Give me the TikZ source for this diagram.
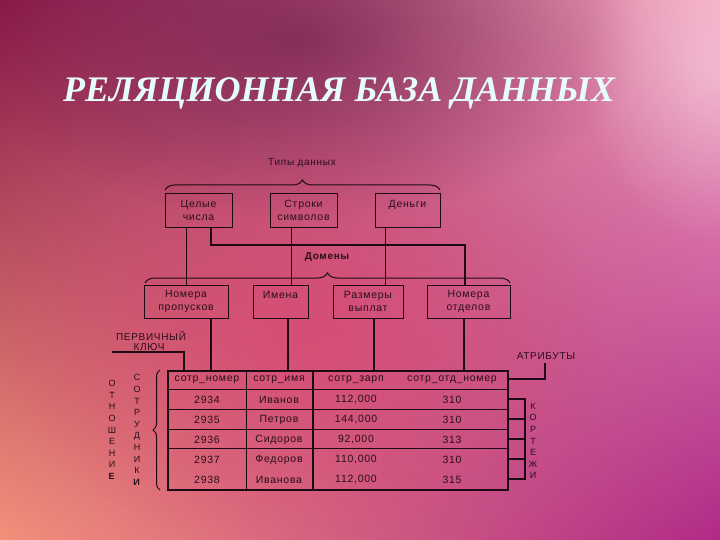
\documentclass[tikz,border=0pt]{standalone}
\usepackage{fontspec}
\setmainfont{Liberation Sans}
\newfontfamily\ttlfont{Liberation Serif}
\newfontfamily\dfont{Liberation Sans}[LetterSpace=7]
\usetikzlibrary{positioning,calc,decorations.pathreplacing,fadings,shadings}

\definecolor{bgul}{HTML}{8A1A4A}
\definecolor{bgur}{HTML}{F3A2BE}
\definecolor{bgll}{HTML}{F3907A}
\definecolor{bglr}{HTML}{B02A88}
\definecolor{bgdark}{HTML}{5E1040}
\definecolor{bgmid}{HTML}{E0406E}
\definecolor{lnc}{HTML}{1E0A14}
\definecolor{txc}{HTML}{2A0E1A}
\definecolor{ttl}{HTML}{E6FCFC}

\tikzfading[name=fadeout, inner color=transparent!0, outer color=transparent!100]

\tikzset{
  box/.style={draw=lnc, line width=0.8pt, minimum height=34pt, align=center,
    text=txc, font=\dfont\fontsize{10.5}{13.5}\selectfont, inner sep=1pt},
  lbl/.style={text=txc, font=\dfont\fontsize{10}{12}\selectfont, inner sep=0pt},
  cell/.style={text=txc, font=\dfont\fontsize{10.5}{12}\selectfont, inner sep=0pt},
  vlbl/.style={text=txc, font=\dfont\fontsize{9}{11.6}\selectfont, align=center, inner sep=0pt},
  lnk/.style={draw=lnc, line width=1pt},
  thk/.style={draw=lnc, line width=2.4pt},
  brc/.style={draw=lnc, line width=1pt, decorate, decoration={brace, amplitude=#1}},
}

\begin{document}
\begin{tikzpicture}[x=1pt, y=-1pt]
\useasboundingbox (0,0) rectangle (720,540);
\shade[upper left=bgul, upper right=bgur, lower left=bgll, lower right=bglr] (0,0) rectangle (720,540);
\fill[bgmid, path fading=fadeout, opacity=0.55] (300,330) ellipse (300 and 220);
\fill[bgdark, path fading=fadeout, opacity=0.55] (300,40) ellipse (340 and 180);
\fill[white, path fading=fadeout, opacity=0.35] (710,70) ellipse (130 and 170);

\node[text=ttl, font=\ttlfont\bfseries\itshape\fontsize{36}{38}\selectfont] (title) at (339,93) {РЕЛЯЦИОННАЯ БАЗА ДАННЫХ};

\node[lbl] (types) at (302,163) {Типы данных};
\draw[brc=10] (165,190) -- (440,190);
\node[box, minimum width=67pt] (cel) at (198.5,210.5) {Целые\\числа};
\node[box, minimum width=67pt] (str) at (303.5,210.5) {Строки\\символов};
\node[box, minimum width=65pt] (den) at (407.5,210.5) {Деньги\\~};

\node[lbl, font=\dfont\bfseries\fontsize{10}{12}\selectfont] (dom) at (327,257) {Домены};
\draw[brc=10] (145,283) -- (510,283);
\node[box, minimum width=84pt, minimum height=33pt] (prop) at (186,301.5) {Номера\\пропусков};
\node[box, minimum width=55pt, minimum height=33pt] (imena) at (280.5,301.5) {Имена\\~};
\node[box, minimum width=70pt, minimum height=33pt] (razm) at (368,301.5) {Размеры\\выплат};
\node[box, minimum width=83pt, minimum height=33pt] (otd) at (468.5,301.5) {Номера\\отделов};

\draw[lnk] (cel.south -| prop.north) -- (prop.north);
\draw[lnk, line width=2pt] ($(cel.south)+(12.5,0)$) |- ($(otd.north)+(-3.5,-40)$) -- ($(otd.north)+(-3.5,0)$);
\draw[lnk] ($(str.south)+(-12.5,0)$) coordinate (s1) -- (s1 |- imena.north);
\draw[lnk] ($(den.south)+(-22.5,0)$) coordinate (s2) -- (s2 |- razm.north);

\node[draw=lnc, line width=1.6pt, minimum width=340pt, minimum height=119pt, inner sep=0pt] (tab) at (338,430.5) {};
\foreach \n/\dx in {prop/25, imena/7.5, razm/6, otd/-4.5}
  \draw[thk] ($(\n.south)+(\dx,0)$) coordinate (t) -- (t |- tab.north);
\foreach \dy in {19,39,59,78}
  \draw[lnk] ($(tab.north west)+(0,\dy)$) -- ($(tab.north east)+(0,\dy)$);
\draw[lnk] ($(tab.north west)+(79,0)$) -- ($(tab.south west)+(79,0)$);
\draw[lnk, line width=1.6pt] ($(tab.north west)+(146,0)$) -- ($(tab.south west)+(146,0)$);

\node[cell] (h1) at (207,380) {сотр\_номер};
\node[cell] (h2) at (279,380) {сотр\_имя};
\node[cell] (h3) at (356,380) {сотр\_зарп};
\node[cell] (h4) at (452,380) {сотр\_отд\_номер};
\foreach \num/\nm/\sal/\dep [count=\i] in {{2934/Иванов/112,000/310}, {2935/Петров/144,000/310},
    {2936/Сидоров/92,000/313}, {2937/Федоров/110,000/310}, {2938/Иванова/112,000/315}} {
  \node[cell] (num\i) at (207,380+20*\i) {\num};
  \node[cell] (nm\i) at (279,380+20*\i) {\nm};
  \node[cell] (sal\i) at (356,380+20*\i) {\sal};
  \node[cell] (dep\i) at (452,380+20*\i) {\dep};
}

\node[lbl] (pk1) at (151,336) {ПЕРВИЧНЫЙ};
\node[lbl] (pk2) at (149,347) {КЛЮЧ};
\coordinate (pkl) at (112,352);
\draw[lnk, line width=1.6pt] (pkl) -| ($(tab.north west)+(17,0)$);

\node[lbl] (atr) at (546,356) {АТРИБУТЫ};
\draw[lnk, line width=1.6pt] ($(tab.north east)+(0,9)$) -| ($(atr.south)+(-1,3)$);

\draw[brc=7] (160,490) -- (160,370);
\node[vlbl] (otn) at (112,430) {О\\Т\\Н\\О\\Ш\\Е\\Н\\И\\\textbf{Е}};
\node[vlbl] (sotr) at (137,430) {С\\О\\Т\\Р\\У\\Д\\Н\\И\\К\\\textbf{И}};

\foreach \dy in {29,49,69,89,109}
  \draw[thk] ($(tab.north east)+(0,\dy)$) -- ++(16,0);
\draw[thk] ($(tab.north east)+(16,28)$) -- ($(tab.north east)+(16,110)$);
\node[vlbl] (kort) at (533,441) {К\\О\\Р\\Т\\Е\\Ж\\И};
\end{tikzpicture}
\end{document}
